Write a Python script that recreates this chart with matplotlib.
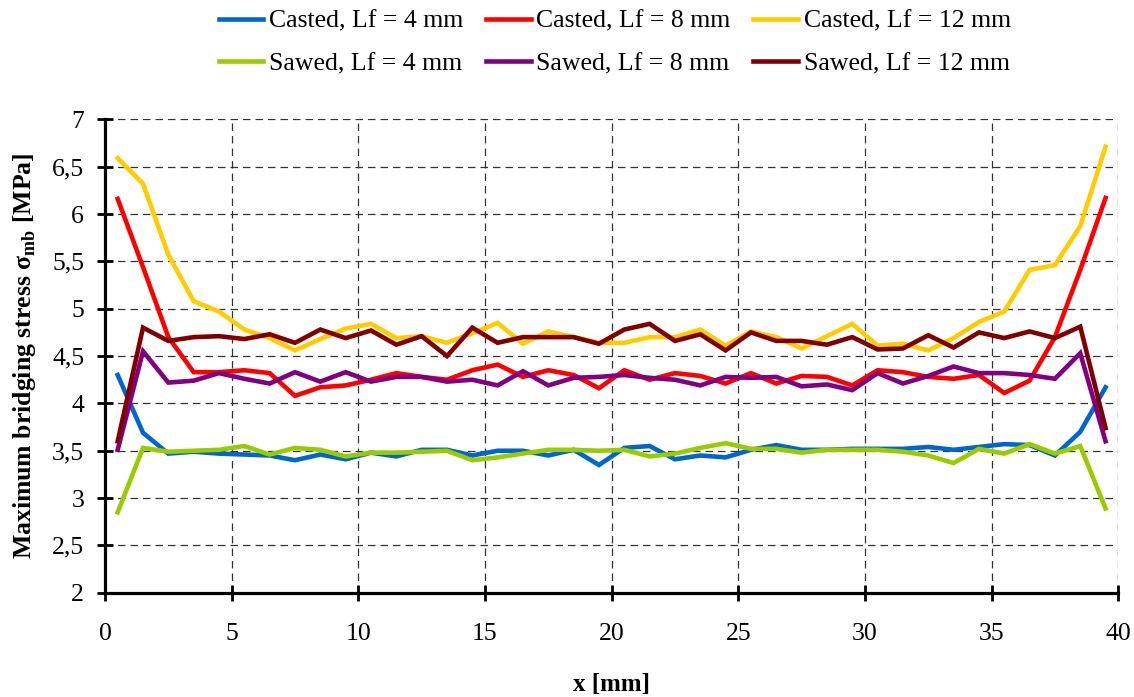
import matplotlib
matplotlib.use("Agg")
import matplotlib.pyplot as plt
from matplotlib.ticker import FuncFormatter, MultipleLocator

plt.rcParams["font.family"] = ["Liberation Serif", "DejaVu Serif"]
plt.rcParams["mathtext.fontset"] = "custom"
plt.rcParams["mathtext.rm"] = "Liberation Serif"
plt.rcParams["mathtext.bf"] = "Liberation Serif:bold"

# x positions of the slices [mm]
x_mm = [i + 0.5 for i in range(40)]

casted_4 = [4.30, 3.69, 3.47, 3.49, 3.47, 3.46, 3.45, 3.40, 3.46, 3.41,
            3.48, 3.44, 3.51, 3.51, 3.45, 3.50, 3.50, 3.45, 3.51, 3.35,
            3.53, 3.55, 3.41, 3.45, 3.43, 3.51, 3.56, 3.51, 3.51, 3.52,
            3.52, 3.52, 3.54, 3.51, 3.54, 3.57, 3.56, 3.45, 3.70, 4.17]
casted_8 = [6.16, 5.44, 4.70, 4.33, 4.33, 4.35, 4.32, 4.08, 4.17, 4.19,
            4.25, 4.32, 4.28, 4.25, 4.35, 4.41, 4.28, 4.35, 4.30, 4.16,
            4.35, 4.25, 4.32, 4.29, 4.21, 4.32, 4.21, 4.29, 4.28, 4.19,
            4.35, 4.33, 4.28, 4.26, 4.30, 4.11, 4.24, 4.70, 5.41, 6.17]
casted_12 = [6.59, 6.32, 5.57, 5.08, 4.97, 4.78, 4.69, 4.56, 4.68, 4.79,
             4.84, 4.69, 4.71, 4.64, 4.74, 4.85, 4.63, 4.76, 4.70, 4.64,
             4.64, 4.70, 4.70, 4.78, 4.61, 4.76, 4.70, 4.58, 4.71, 4.84,
             4.61, 4.63, 4.56, 4.69, 4.86, 4.97, 5.41, 5.46, 5.87, 6.71]
sawed_4 = [2.85, 3.53, 3.49, 3.50, 3.51, 3.55, 3.46, 3.53, 3.51, 3.44,
           3.48, 3.48, 3.49, 3.50, 3.40, 3.43, 3.47, 3.51, 3.51, 3.50,
           3.51, 3.44, 3.47, 3.53, 3.58, 3.52, 3.52, 3.48, 3.51, 3.51,
           3.51, 3.49, 3.45, 3.37, 3.52, 3.47, 3.57, 3.47, 3.55, 2.89]
sawed_8 = [3.51, 4.55, 4.22, 4.24, 4.32, 4.26, 4.21, 4.33, 4.23, 4.33,
           4.23, 4.28, 4.28, 4.23, 4.25, 4.19, 4.34, 4.19, 4.27, 4.28,
           4.30, 4.27, 4.25, 4.19, 4.28, 4.27, 4.28, 4.18, 4.20, 4.14,
           4.32, 4.21, 4.29, 4.39, 4.32, 4.32, 4.30, 4.26, 4.53, 3.60]
sawed_12 = [3.60, 4.80, 4.66, 4.70, 4.71, 4.68, 4.73, 4.64, 4.78, 4.69,
            4.77, 4.62, 4.71, 4.50, 4.80, 4.64, 4.70, 4.70, 4.70, 4.63,
            4.78, 4.84, 4.66, 4.73, 4.56, 4.75, 4.66, 4.66, 4.62, 4.70,
            4.57, 4.58, 4.72, 4.59, 4.75, 4.69, 4.76, 4.69, 4.81, 3.74]

# legend fills column by column, so casted/sawed pairs alternate
series = [
    ("Casted, Lf = 4 mm", casted_4, "#0066CC"),
    ("Sawed, Lf = 4 mm", sawed_4, "#99CC00"),
    ("Casted, Lf = 8 mm", casted_8, "#FF0000"),
    ("Sawed, Lf = 8 mm", sawed_8, "#800080"),
    ("Casted, Lf = 12 mm", casted_12, "#FFCC00"),
    ("Sawed, Lf = 12 mm", sawed_12, "#800000"),
]
draw_order = [4, 2, 0, 1, 3, 5]

fig = plt.figure(figsize=(11.34, 6.97), dpi=100)
ax = fig.add_axes([0.0926, 0.1495, 0.8935, 0.6793])

handles = {}
for idx in draw_order:
    label, values, color = series[idx]
    (line,) = ax.plot(x_mm, values, color=color, linewidth=3.3, label=label,
                      solid_joinstyle="miter")
    handles[idx] = line

ax.set_xlim(0, 40)
ax.set_ylim(2, 7)
ax.xaxis.set_major_locator(MultipleLocator(5))
ax.yaxis.set_major_locator(MultipleLocator(0.5))

comma = FuncFormatter(lambda v, _: f"{v:g}".replace(".", ","))
ax.xaxis.set_major_formatter(comma)
ax.yaxis.set_major_formatter(comma)

ax.grid(True, linestyle=(0, (6, 4)), color="#333333", linewidth=0.9)
ax.set_axisbelow(True)
for side in ("top", "right"):
    ax.spines[side].set_visible(False)
for side in ("left", "bottom"):
    ax.spines[side].set_linewidth(2.3)
ax.tick_params(axis="both", direction="inout", length=12, width=2,
               labelsize=18.5)
ax.tick_params(axis="x", pad=16)
ax.tick_params(axis="y", pad=9)

ax.set_xlabel("x [mm]", fontsize=18, fontweight="bold", labelpad=20)
ax.set_ylabel(r"Maximum bridging stress σ$_{\mathbf{mb}}$ [MPa]",
              fontsize=18.5, fontweight="bold", labelpad=10)

fig.legend([handles[i] for i in range(6)], [s[0] for s in series],
           loc="upper center", bbox_to_anchor=(0.542, 1.019), ncol=3,
           frameon=False, fontsize=18.5, handlelength=1.75, handletextpad=0.2,
           columnspacing=0.9, labelspacing=0.75)

fig.savefig("out.png", dpi=100)
